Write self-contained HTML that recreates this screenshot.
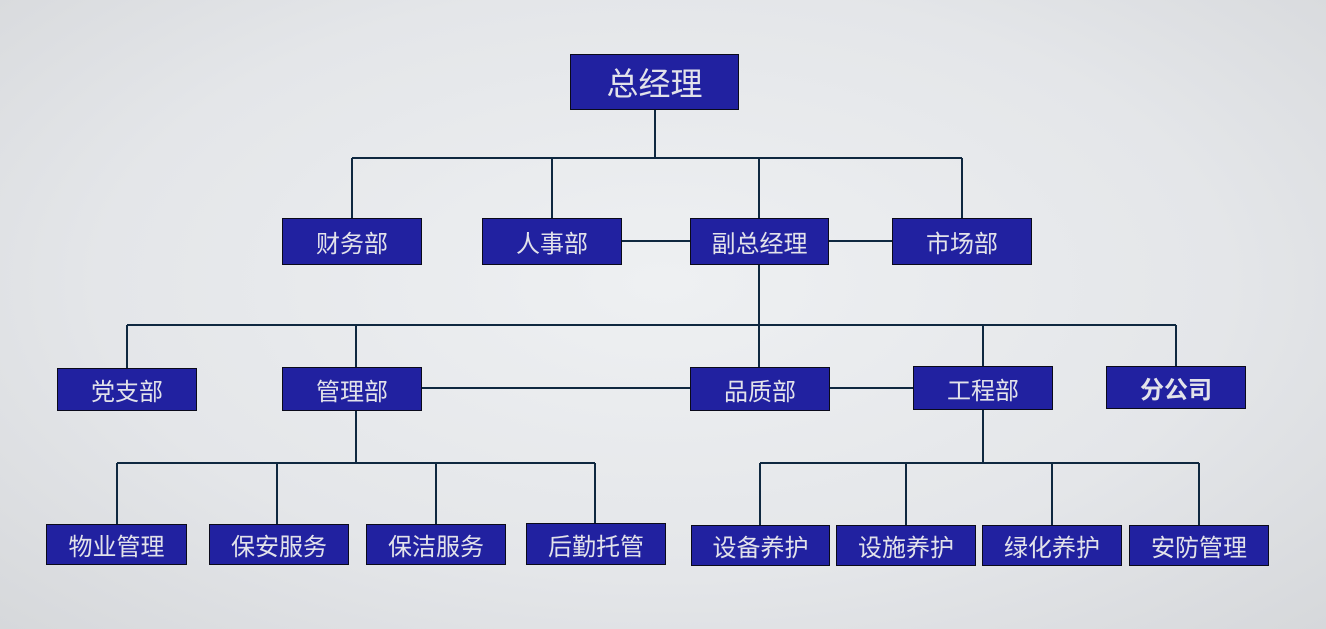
<!DOCTYPE html>
<html><head><meta charset="utf-8"><style>
body{margin:0;width:1326px;height:629px;overflow:hidden;background:radial-gradient(ellipse at 50% 45%,#eef0f2 0%,#e4e6e9 60%,#d6d8db 100%);font-family:"Liberation Sans","Noto Sans CJK SC",sans-serif;position:relative}
.b{position:absolute;background:#2121a0;border:1.5px solid #0a0a1a;box-sizing:border-box;color:#e2e2ea;font-size:24px;display:flex;align-items:center;justify-content:center;letter-spacing:0}
svg{position:absolute;left:0;top:0}
</style></head><body>
<svg width="1326" height="629"><g stroke="#0f2840" stroke-width="2" fill="none">
<path d="M655 109V158M352 158H962M352 158V218M552 158V218M759 158V218M962 158V218"/>
<path d="M621 241H690M828 241H892"/>
<path d="M759 264V325M127 325H1176M127 325V368M356 325V367M759 325V367M983 325V367M1176 325V367"/>
<path d="M421 388H690M829 388H913"/>
<path d="M356 410V463M117 463H595M117 463V524M277 463V524M436 463V524M595 463V523"/>
<path d="M983 409V463M760 463H1199M760 463V525M906 463V525M1052 463V525M1199 463V525"/>
</g></svg>
<div class="b" style="left:570px;top:54px;width:169px;height:56px;font-size:32px">总经理</div>
<div class="b" style="left:282px;top:218px;width:140px;height:47px">财务部</div>
<div class="b" style="left:482px;top:218px;width:140px;height:47px">人事部</div>
<div class="b" style="left:690px;top:218px;width:139px;height:47px">副总经理</div>
<div class="b" style="left:892px;top:218px;width:140px;height:47px">市场部</div>
<div class="b" style="left:57px;top:368px;width:140px;height:43px">党支部</div>
<div class="b" style="left:282px;top:367px;width:140px;height:44px">管理部</div>
<div class="b" style="left:690px;top:367px;width:140px;height:44px">品质部</div>
<div class="b" style="left:913px;top:366px;width:140px;height:44px">工程部</div>
<div class="b" style="left:1106px;top:366px;width:140px;height:43px;font-weight:bold">分公司</div>
<div class="b" style="left:46px;top:524px;width:141px;height:41px">物业管理</div>
<div class="b" style="left:209px;top:524px;width:140px;height:41px">保安服务</div>
<div class="b" style="left:366px;top:524px;width:140px;height:41px">保洁服务</div>
<div class="b" style="left:526px;top:523px;width:140px;height:42px">后勤托管</div>
<div class="b" style="left:691px;top:525px;width:139px;height:41px">设备养护</div>
<div class="b" style="left:836px;top:525px;width:140px;height:41px">设施养护</div>
<div class="b" style="left:982px;top:525px;width:140px;height:41px">绿化养护</div>
<div class="b" style="left:1129px;top:525px;width:140px;height:41px">安防管理</div>
</body></html>
